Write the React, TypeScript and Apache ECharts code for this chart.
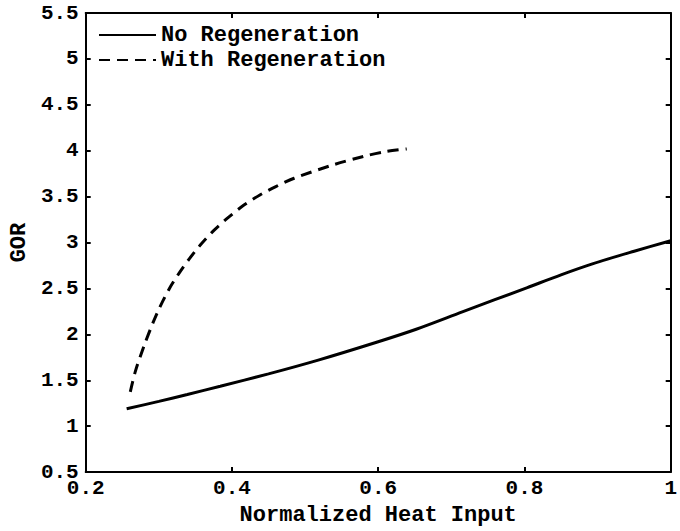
import { useEffect, useRef } from "react";
import * as echarts from "echarts";

// Normalized heat input vs. gain output ratio (GOR)
const heatInputNoRegen = [0.256, 0.3, 0.339, 0.384, 0.45, 0.518, 0.6, 0.652, 0.715, 0.804, 0.85, 0.894, 0.95, 1.0];
const gorNoRegen = [1.19, 1.27, 1.345, 1.435, 1.57, 1.72, 1.92, 2.056, 2.245, 2.51, 2.648, 2.77, 2.905, 3.02];

const heatInputRegen = [
  0.261, 0.268, 0.28, 0.2922, 0.301, 0.3145, 0.328, 0.3414, 0.357, 0.375, 0.393, 0.415, 0.4376, 0.46,
  0.485, 0.536, 0.5808, 0.61, 0.639,
];
const gorRegen = [
  1.374, 1.6, 1.88, 2.13, 2.29, 2.5, 2.67, 2.82, 2.975, 3.13, 3.26, 3.4, 3.515, 3.61, 3.7, 3.84, 3.94,
  3.99, 4.02,
];

const seriesNames = ["No Regeneration", "With Regeneration"];
const axisTitles = { x: "Normalized Heat Input", y: "GOR" };
const xRange = { min: 0.2, max: 1, interval: 0.2 };
const yRange = { min: 0.5, max: 5.5, interval: 0.5 };

const FONT = '"Liberation Mono", "DejaVu Sans Mono", monospace';

const zip = (xs: number[], ys: number[]) => xs.map((x, i) => [x, ys[i]]);

export default function App() {
  const ref = useRef<HTMLDivElement>(null);

  useEffect(() => {
    if (!ref.current) return;
    const chart = echarts.init(ref.current, undefined, { renderer: "svg" });

    const axisLine = { show: true, lineStyle: { color: "#000", width: 2 } };
    const axisTick = { show: true, inside: true, length: 5, lineStyle: { color: "#000", width: 2 } };
    const labelStyle = { color: "#000", fontFamily: FONT, fontWeight: "bold" as const, fontSize: 21 };
    const titleStyle = { ...labelStyle, fontSize: 22 };

    chart.setOption({
      animation: false,
      backgroundColor: "#fff",
      grid: { left: 83, right: 1, top: 13, bottom: 49, containLabel: false },
      legend: {
        data: seriesNames,
        orient: "vertical",
        left: 98,
        top: 24,
        padding: 0,
        itemWidth: 57,
        itemHeight: 14,
        itemGap: 3,
        itemStyle: { opacity: 0 },
        textStyle: titleStyle,
      },
      xAxis: [
        {
          type: "value",
          min: xRange.min,
          max: xRange.max,
          interval: xRange.interval,
          name: axisTitles.x,
          nameLocation: "middle",
          nameGap: 26,
          nameTextStyle: titleStyle,
          axisLine,
          axisTick,
          splitLine: { show: false },
          axisLabel: { ...labelStyle, margin: 6 },
        },
        {
          type: "value",
          position: "top",
          min: xRange.min,
          max: xRange.max,
          interval: xRange.interval,
          axisLine,
          axisTick,
          splitLine: { show: false },
          axisLabel: { show: false },
        },
      ],
      yAxis: [
        {
          type: "value",
          min: yRange.min,
          max: yRange.max,
          interval: yRange.interval,
          name: axisTitles.y,
          nameLocation: "middle",
          nameGap: 52,
          nameTextStyle: titleStyle,
          axisLine,
          axisTick,
          splitLine: { show: false },
          axisLabel: { ...labelStyle, margin: 7 },
        },
        {
          type: "value",
          position: "right",
          min: yRange.min,
          max: yRange.max,
          interval: yRange.interval,
          axisLine,
          axisTick,
          splitLine: { show: false },
          axisLabel: { show: false },
        },
      ],
      series: [
        {
          name: seriesNames[0],
          type: "line",
          data: zip(heatInputNoRegen, gorNoRegen),
          smooth: 0.3,
          symbol: "none",
          lineStyle: { color: "#000", width: 3 },
          itemStyle: { color: "#000" },
        },
        {
          name: seriesNames[1],
          type: "line",
          data: zip(heatInputRegen, gorRegen),
          smooth: 0.3,
          symbol: "none",
          lineStyle: { color: "#000", width: 3, type: [11, 7] },
          itemStyle: { color: "#000" },
        },
      ],
    });

    return () => chart.dispose();
  }, []);

  return (
    <div
      ref={ref}
      style={{ position: "absolute", left: 0, top: 0, width: 680, height: 531, background: "#fff" }}
    />
  );
}
